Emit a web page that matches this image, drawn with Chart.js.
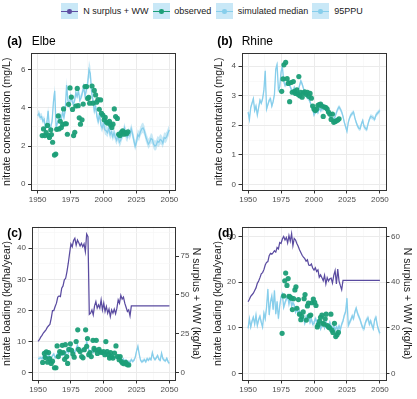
<!DOCTYPE html>
<html><head><meta charset="utf-8">
<script src="https://cdn.jsdelivr.net/npm/chart.js@4.4.1/dist/chart.umd.min.js"></script>
<style>
html,body{margin:0;padding:0;background:#fff;}
body{width:417px;height:399px;position:relative;overflow:hidden;font-family:"Liberation Sans",Arial,sans-serif;}
canvas{position:absolute;}
.lbl{position:absolute;white-space:nowrap;color:#1a1a1a;line-height:1;}
.key{position:absolute;width:16.5px;height:15.7px;background:#c9e8f7;top:3.3px;}
.key .ln{position:absolute;left:0;right:0;top:7.4px;height:1.2px;}
.key .dt{position:absolute;left:6px;top:5.8px;width:4.5px;height:4.5px;border-radius:50%;}
</style></head><body>

<div class="key" style="left:61px"><div class="ln" style="background:#5e4fa2"></div><div class="dt" style="background:#5e4fa2"></div></div>
<div class="lbl" style="left:83.3px;top:6.5px;font-size:9px">N surplus + WW</div>
<div class="key" style="left:153.3px"><div class="ln" style="background:#1b9e77"></div><div class="dt" style="background:#1b9e77"></div></div>
<div class="lbl" style="left:174.3px;top:6.5px;font-size:9px">observed</div>
<div class="key" style="left:216.3px"><div class="ln" style="background:#87ceeb"></div><div class="dt" style="background:#87ceeb"></div></div>
<div class="lbl" style="left:237.7px;top:6.5px;font-size:9px">simulated median</div>
<div class="key" style="left:312.3px"><div class="ln" style="background:#87ceeb"></div><div class="dt" style="background:#87ceeb"></div></div>
<div class="lbl" style="left:334.3px;top:6.5px;font-size:9px">95PPU</div>

<script>
// ---------- data ----------
const simYears = Array.from({length: 101}, (_, i) => 1950 + i);
const xMajor = [1950, 1975, 2000, 2025, 2050];
const xMinor = [1962.5, 1987.5, 2012.5, 2037.5];

// (a) Elbe nitrate concentration (mg/L)
const elbeConcMedian = [
3.6,3.7,3.5,3.55,3.3,3.4,2.9,3.2,3.85,2.9,
3.0,3.3,4.3,4.9,3.0,3.2,3.4,3.6,3.4,3.8,
3.5,3.9,5.2,4.4,4.1,4.6,4.4,4.2,4.35,4.8,
4.6,4.9,4.4,4.55,4.8,5.1,4.6,4.95,5.3,6.0,
5.8,4.8,4.4,3.85,4.1,3.55,3.3,3.7,3.1,2.95,
3.2,2.85,2.8,2.7,2.95,2.6,2.75,2.5,2.7,2.45,
2.3,2.6,2.2,2.3,2.55,2.7,2.95,2.55,2.45,2.7,
2.55,2.9,2.65,2.3,2.0,2.2,2.6,2.5,2.75,2.9,
2.95,2.8,2.5,2.3,2.1,2.2,2.4,2.35,2.1,2.0,
2.05,2.25,2.2,2.35,2.3,2.15,2.45,2.4,2.5,2.7,
2.85];
const elbeConcLow = [
3.45,3.55,3.35,3.4,3.15,3.25,2.75,3.05,3.65,2.75,
2.85,3.15,4.1,4.6,2.85,3.05,3.25,3.45,3.25,3.6,
3.35,3.75,4.9,4.2,3.95,4.4,4.25,4.05,4.2,4.6,
4.45,4.7,4.25,4.4,4.6,4.9,4.45,4.75,5.05,5.6,
5.45,4.55,4.15,3.6,3.85,3.3,3.05,3.45,2.85,2.7,
2.95,2.6,2.55,2.45,2.7,2.35,2.5,2.25,2.45,2.2,
2.05,2.35,1.95,2.05,2.3,2.45,2.7,2.3,2.2,2.45,
2.3,2.65,2.4,2.05,1.75,1.95,2.35,2.25,2.5,2.65,
2.7,2.55,2.25,2.05,1.85,1.95,2.15,2.1,1.85,1.75,
1.8,2.0,1.95,2.1,2.05,1.9,2.2,2.15,2.25,2.45,
2.6];
const elbeConcHigh = [
3.8,3.9,3.7,3.75,3.5,3.6,3.1,3.4,4.1,3.1,
3.2,3.5,4.55,5.2,3.2,3.4,3.6,3.8,3.6,4.0,
3.7,4.15,5.6,4.6,4.3,4.85,4.6,4.4,4.55,5.05,
4.8,5.15,4.6,4.75,5.05,5.35,4.8,5.2,5.6,6.5,
6.2,5.1,4.7,4.12,4.38,3.83,3.58,3.98,3.38,3.23,
3.48,3.13,3.08,2.98,3.23,2.88,3.03,2.78,2.98,2.73,
2.58,2.88,2.48,2.58,2.83,2.98,3.23,2.83,2.73,2.98,
2.83,3.18,2.93,2.58,2.28,2.48,2.88,2.78,3.03,3.18,
3.23,3.08,2.78,2.58,2.38,2.48,2.68,2.63,2.38,2.28,
2.33,2.53,2.48,2.63,2.58,2.43,2.73,2.68,2.78,2.98,
3.13];
const elbeConcObsYears = [1953.5,1954.5,1955.5,1956.5,1957.5,1958.3,1959,1960,1960.5,1961.4,1962.8,1963.8,1964.5,1965.7,1966.2,1967.2,1968,1969,1969.7,1970.8,1971.8,1972.6,1973.5,1974.6,1975.6,1976.5,1977.3,1978.2,1979,1980.1,1980.8,1981.6,1982.5,1983.7,1984.6,1986,1987.2,1988,1988.8,1989.5,1991.3,1992,1993,1994,1994.8,1995.8,1996.8,1997.8,1998.5,1999.5,2000.5,2001.3,2002.3,2003.3,2004.5,2005.5,2006.3,2007.2,2008.2,2009.2,2010.5,2011.5,2012.5,2013.5,2014.5,2015.5,2016.5,2017.5,2018.5];
const elbeConcObs = [2.55,2.9,2.55,2.7,3.08,2.55,2.45,2.85,2.6,2.2,1.53,1.58,2.88,3.58,2.9,3.3,2.97,3.13,3.95,3.17,3.17,2.62,4.19,5.05,4.57,3.92,2.55,2.72,4.1,5.02,4.12,3.48,3.15,3.38,4.2,5.12,5.12,4.5,4.55,4.25,5.15,4.25,4.92,4.68,4.3,4.43,3.93,4.42,3.72,3.62,3.38,3.5,3.25,3.2,3.3,3.1,2.98,3.15,3.95,3.55,3.45,2.62,2.55,2.72,2.8,2.62,2.7,2.65,2.75];

// (b) Rhine nitrate concentration (mg/L)
const rhineConcMedian = [
2.45,2.2,2.6,2.75,2.9,2.5,2.65,2.35,2.6,2.85,
2.75,2.9,3.2,3.85,2.55,2.7,2.85,2.9,2.65,2.8,
3.05,3.9,4.05,3.2,3.3,3.8,4.0,3.5,3.35,3.4,
3.45,3.5,3.3,3.2,3.1,3.28,3.15,3.1,3.17,3.34,
3.5,3.4,3.25,3.1,3.0,2.95,2.9,2.8,2.66,2.55,
2.35,2.45,2.5,2.43,2.6,2.5,2.55,2.55,2.66,2.55,
2.45,2.4,2.32,2.26,2.18,2.2,2.3,2.43,2.55,2.62,
2.55,2.45,2.3,2.1,1.95,1.8,2.1,2.25,2.35,2.4,
2.45,2.25,2.1,1.98,1.9,1.88,2.05,2.16,1.95,1.9,
1.86,2.05,2.2,2.3,2.28,2.25,2.2,2.35,2.4,2.45,
2.5];
const rhineConcLow = [
2.37,2.12,2.52,2.67,2.82,2.42,2.57,2.27,2.52,2.77,
2.67,2.82,3.12,3.72,2.47,2.62,2.77,2.82,2.57,2.72,
2.97,3.78,3.93,3.12,3.22,3.7,3.9,3.42,3.27,3.32,
3.37,3.42,3.22,3.12,3.02,3.2,3.07,3.02,3.09,3.26,
3.42,3.32,3.17,3.02,2.92,2.87,2.82,2.72,2.58,2.47,
2.27,2.37,2.42,2.35,2.52,2.42,2.47,2.47,2.58,2.47,
2.37,2.32,2.24,2.18,2.1,2.12,2.22,2.35,2.47,2.54,
2.47,2.37,2.22,2.02,1.87,1.72,2.02,2.17,2.27,2.32,
2.37,2.17,2.02,1.9,1.82,1.8,1.97,2.08,1.87,1.82,
1.78,1.97,2.12,2.22,2.2,2.17,2.12,2.27,2.32,2.37,
2.42];
const rhineConcHigh = [
2.53,2.28,2.68,2.83,2.98,2.58,2.73,2.43,2.68,2.93,
2.83,2.98,3.28,3.98,2.63,2.78,2.93,2.98,2.73,2.88,
3.13,4.02,4.17,3.28,3.38,3.9,4.1,3.58,3.43,3.48,
3.53,3.58,3.38,3.28,3.18,3.36,3.23,3.18,3.25,3.42,
3.58,3.48,3.33,3.18,3.08,3.03,2.98,2.88,2.74,2.63,
2.43,2.53,2.58,2.51,2.68,2.58,2.63,2.63,2.74,2.63,
2.53,2.48,2.4,2.34,2.26,2.28,2.38,2.51,2.63,2.7,
2.63,2.53,2.38,2.18,2.03,1.88,2.18,2.33,2.43,2.48,
2.53,2.33,2.18,2.06,1.98,1.96,2.13,2.24,2.03,1.98,
1.94,2.13,2.28,2.38,2.36,2.33,2.28,2.43,2.48,2.53,
2.58];
const rhineConcObsYears = [1975.5,1976.5,1977.2,1978.5,1979.6,1980.5,1981.5,1982.5,1983.5,1984.3,1985.2,1986,1987,1987.8,1988.5,1989.2,1990,1991,1992,1993,1994,1995,1996,1997,1998,1999,2000,2001,2002,2003,2004,2005,2006,2007,2008,2009,2010,2011,2012,2013,2014,2015,2016,2017,2018,2019];
const rhineConcObs = [3.15,3.57,4.05,4.13,3.58,3.42,2.8,3.45,3.12,3.48,3.15,3.08,3.2,3.05,3.65,3.0,3.12,2.95,3.1,3.13,3.05,3.12,2.98,3.08,2.92,2.65,2.55,2.5,2.55,2.68,2.7,2.72,2.65,2.3,2.62,2.6,2.55,2.45,2.38,2.2,2.38,2.1,2.13,2.15,2.18,2.22];

// (c) Elbe nitrate loading (kg/ha/year) and N surplus + WW (kg/ha)
const elbeLoadMedian = [
4.5,4.6,4.8,4.5,5.2,4.9,5.4,4.6,5.8,5.0,
4.7,5.5,6.0,4.8,5.2,6.5,5.5,5.8,6.2,5.6,
6.8,6.0,7.5,6.4,7.2,8.5,6.8,7.0,6.5,7.8,
8.8,7.2,6.8,7.5,7.0,8.0,7.2,10.2,8.0,7.0,
6.4,7.2,6.5,8.0,7.0,7.5,6.2,6.8,6.0,6.5,
6.8,5.8,7.0,5.5,5.2,6.0,5.0,5.5,4.5,5.0,
4.8,5.5,4.2,4.5,3.8,4.4,3.5,4.0,3.2,3.6,
3.4,4.2,3.6,4.0,5.0,7.0,8.5,6.0,4.0,3.5,
3.8,4.2,3.5,4.5,4.0,4.6,4.2,6.5,4.8,4.2,
4.8,5.5,4.3,4.0,6.3,4.5,4.0,3.8,4.6,3.5,
3.0];
const elbeLoadLow = [
4.0,4.1,4.3,4.0,4.7,4.4,4.9,4.1,5.3,4.5,
4.2,5.0,5.5,4.3,4.7,6.0,5.0,5.3,5.7,5.1,
6.3,5.5,7.0,5.9,6.7,8.0,6.3,6.5,6.0,7.3,
8.3,6.7,6.3,7.0,6.5,7.5,6.7,9.7,7.5,6.5,
5.9,6.7,6.0,7.5,6.5,7.0,5.7,6.3,5.5,6.0,
6.3,5.3,6.5,5.0,4.7,5.5,4.5,5.0,4.0,4.5,
4.3,5.0,3.7,4.0,3.3,3.9,3.0,3.5,2.7,3.1,
2.9,3.7,3.1,3.5,4.5,6.5,8.0,5.5,3.5,3.0,
3.3,3.7,3.0,4.0,3.5,4.1,3.7,6.0,4.3,3.7,
4.3,5.0,3.8,3.5,5.8,4.0,3.5,3.3,4.1,3.0,
2.5];
const elbeLoadHigh = [
5.1,5.2,5.4,5.1,5.8,5.5,6.0,5.2,6.4,5.6,
5.3,6.1,6.6,5.4,5.8,7.1,6.1,6.4,6.8,6.2,
7.4,6.6,8.1,7.0,7.8,9.1,7.4,7.6,7.1,8.4,
9.4,7.8,7.4,8.1,7.6,8.6,7.8,10.8,8.6,7.6,
7.0,7.8,7.1,8.6,7.6,8.1,6.8,7.4,6.6,7.1,
7.4,6.4,7.6,6.1,5.8,6.6,5.6,6.1,5.1,5.6,
5.4,6.1,4.8,5.1,4.4,5.0,4.1,4.6,3.8,4.2,
4.0,4.8,4.2,4.6,5.6,7.6,9.1,6.6,4.6,4.1,
4.4,4.8,4.1,5.1,4.6,5.2,4.8,7.1,5.4,4.8,
5.4,6.1,4.9,4.6,6.9,5.1,4.6,4.4,5.2,4.1,
3.6];
const elbeNsurplus = [
20.1,21.2,22.9,24.0,25.5,26.5,27.6,29.1,30.2,31.0,
35.0,40.0,40.0,42.6,44.7,48.6,49.4,49.0,54.3,55.8,
59.7,60.7,65.0,70.4,76.8,82.8,81.0,85.0,86.4,82.0,
85.3,83.6,81.5,83.2,81.0,82.8,77.9,89.2,87.5,37.5,
38.3,40.4,37.2,43.0,45.8,41.5,43.6,41.5,46.8,40.4,
44.7,39.4,42.6,38.3,40.9,36.1,40.4,38.3,40.9,37.9,
41.5,46.8,44.7,49.8,47.3,48.6,44.7,42.1,39.4,40.4,
36.6,43.0,43.0,43.0,43.0,43.0,43.0,43.0,43.0,43.0,
43.0,43.0,43.0,43.0,43.0,43.0,43.0,43.0,43.0,43.0,
43.0,43.0,43.0,43.0,43.0,43.0,43.0,43.0,43.0,43.0,
43.0];
const elbeLoadObsYears = [1953.5,1954.8,1955.5,1956.3,1957.2,1958,1958.8,1960,1961,1962.5,1963.6,1964.5,1965.4,1966.5,1967.5,1968.4,1969.2,1970.2,1970.8,1971.8,1972.5,1973.5,1974.6,1975.5,1976.5,1977.5,1979,1980.2,1980.8,1982,1983.2,1984.2,1985.2,1986.2,1987,1987.6,1988.6,1989.5,1990.5,1991.8,1992.6,1993.3,1994.3,1995.2,1996.4,1997.2,1998.5,1999.8,2000.8,2001.6,2002.6,2003.6,2004.4,2005.2,2005.8,2007,2008.2,2009.3,2010.5,2011.7,2012.5,2013.5,2014.3,2015.5,2016.8,2018,2019];
const elbeLoadObs = [3.3,6.2,4.9,6.7,3.4,6.5,4.5,3.0,3.7,1.6,1.6,8.6,5.2,6.8,6.3,8.8,6.5,4.3,9.0,5.2,3.0,7.5,9.3,7.2,6.0,5.0,10.0,13.8,7.5,6.8,5.2,4.8,7.4,13.8,8.5,11.0,5.8,6.5,5.2,10.4,7.8,7.3,10.4,6.2,7.5,6.8,6.5,6.8,5.8,10.0,6.8,5.8,4.7,6.5,5.2,4.7,6.3,8.6,5.2,4.2,5.2,3.6,3.1,2.9,3.3,2.6,2.5];

// (d) Rhine nitrate loading (kg/ha/year) and N surplus + WW (kg/ha)
const rhineLoadMedian = [
9.9,12.0,10.2,11.5,12.3,10.8,12.8,10.5,11.8,12.5,
11.2,10.2,13.2,12.0,14.5,18.5,12.8,15.7,17.0,14.0,
18.2,13.0,15.8,12.0,14.8,16.8,17.4,14.5,15.5,16.3,
17.0,15.2,16.8,14.8,15.5,15.0,13.5,14.2,13.0,13.8,
12.5,11.7,12.2,11.0,12.5,11.8,12.8,11.2,12.0,10.8,
11.0,12.0,11.5,10.5,11.2,9.8,10.5,11.0,10.0,11.3,
10.6,10.0,11.2,10.3,9.8,10.5,9.5,10.2,9.7,10.4,
9.6,10.8,11.5,12.8,13.5,16.5,10.5,11.2,11.8,12.6,
12.0,13.5,14.3,13.2,12.5,11.8,10.8,10.0,9.8,11.2,
11.8,12.2,10.8,11.5,10.5,9.8,11.8,12.3,10.6,9.5,
8.8];
const rhineLoadLow = [
9.3,11.4,9.6,10.9,11.7,10.2,12.2,9.9,11.2,11.9,
10.6,9.6,12.6,11.4,13.9,17.9,12.2,15.1,16.4,13.4,
17.6,12.4,15.2,11.4,14.2,16.2,16.8,13.9,14.9,15.7,
16.4,14.6,16.2,14.2,14.9,14.4,12.9,13.6,12.4,13.2,
11.9,11.1,11.6,10.4,11.9,11.2,12.2,10.6,11.4,10.2,
10.4,11.4,10.9,9.9,10.6,9.2,9.9,10.4,9.4,10.7,
10.0,9.4,10.6,9.7,9.2,9.9,8.9,9.6,9.1,9.8,
9.0,10.2,10.9,12.2,12.9,15.9,9.9,10.6,11.2,12.0,
11.4,12.9,13.7,12.6,11.9,11.2,10.2,9.4,9.2,10.6,
11.2,11.6,10.2,10.9,9.9,9.2,11.2,11.7,10.0,8.9,
8.2];
const rhineLoadHigh = [
10.5,12.6,10.8,12.1,12.9,11.4,13.4,11.1,12.4,13.1,
11.8,10.8,13.8,12.6,15.1,19.1,13.4,16.3,17.6,14.6,
18.8,13.6,16.4,12.6,15.4,17.4,18.0,15.1,16.1,16.9,
17.6,15.8,17.4,15.4,16.1,15.6,14.1,14.8,13.6,14.4,
13.1,12.3,12.8,11.6,13.1,12.4,13.4,11.8,12.6,11.4,
11.6,12.6,12.1,11.1,11.8,10.4,11.1,11.6,10.6,11.9,
11.2,10.6,11.8,10.9,10.4,11.1,10.1,10.8,10.3,11.0,
10.2,11.4,12.1,13.4,14.1,17.1,11.1,11.8,12.4,13.2,
12.6,14.1,14.9,13.8,13.1,12.4,11.4,10.6,10.4,11.8,
12.4,12.8,11.4,12.1,11.1,10.4,12.4,12.9,11.2,10.1,
9.4];
const rhineNsurplus = [
31.4,32.5,33.8,34.5,35.2,36.4,37.5,39.5,40.5,42.0,
43.7,44.2,45.5,47.5,48.7,49.0,51.6,52.6,52.3,53.0,
53.8,53.2,55.2,54.6,57.4,57.0,58.9,60.0,58.5,59.6,
57.2,60.4,58.0,61.3,56.0,59.2,58.5,57.0,55.7,54.2,
53.0,51.8,51.0,50.3,49.2,49.8,47.5,47.3,48.0,46.2,
45.3,46.3,44.7,45.4,42.2,43.2,42.0,40.6,43.0,39.2,
42.0,40.5,41.5,41.8,39.6,43.0,45.1,39.2,45.8,40.5,
38.5,36.7,40.8,40.8,40.8,40.8,40.8,40.8,40.8,40.8,
40.8,40.8,40.8,40.8,40.8,40.8,40.8,40.8,40.8,40.8,
40.8,40.8,40.8,40.8,40.8,40.8,40.8,40.8,40.8,40.8,
40.8];
const rhineLoadObsYears = [1975.8,1977,1977.8,1978.5,1979.5,1980.4,1981,1981.8,1982.8,1983.6,1984.5,1985.5,1986.3,1987,1988.2,1989,1990,1990.8,1991.8,1992.5,1993.2,1994.2,1995,1995.8,1996.5,1997.5,1998.5,1999.5,2000.5,2001.5,2002.5,2003.2,2004.2,2005,2006,2006.8,2007.6,2008.5,2009.2,2010.2,2011,2011.8,2012.8,2013.6,2014.4,2015.5,2016.5,2017.5,2018.5];
const rhineLoadObs = [8.8,17.0,20.3,22.0,19.3,20.8,16.9,16.8,16.5,14.0,16.4,18.3,19.0,14.3,16.2,13.0,11.8,12.5,13.5,16.4,17.3,11.7,14.8,15.4,12.6,12.8,15.5,16.3,15.6,14.9,10.2,10.7,11.5,12.3,12.8,11.0,10.8,12.0,13.0,10.5,10.2,10.0,13.0,9.5,9.0,11.0,8.1,8.5,9.0];

// tick labels
const concTicksElbe = [0, 2, 4, 6];
const concMinorElbe = [1, 3, 5];
const concTicksRhine = [0, 1, 2, 3, 4];
const concMinorRhine = [0.5, 1.5, 2.5, 3.5];
const loadTicksElbe = [0, 10, 20, 30, 40];
const loadMinorElbe = [5, 15, 25, 35, 45];
const nTicksElbe = [0, 25, 50, 75];
const loadTicksRhine = [0, 10, 20, 30];
const loadMinorRhine = [5, 15, 25];
const nTicksRhine = [0, 20, 40, 60];

// ---------- drawing ----------
const SKY = '#87ceeb';
const RIBBON = 'rgba(135,206,235,0.45)';
const GREEN = 'rgba(27,158,119,0.95)';
const PURPLE = '#5a4ba0';
Chart.defaults.font.family = '"Liberation Sans", Arial, sans-serif';
Chart.defaults.color = '#4d4d4d';

function pts(xs, ys) { return xs.map((x, i) => ({x: x, y: ys[i]})); }

const borderPlugin = {
  id: 'panelBorder',
  afterDraw(chart) {
    const a = chart.chartArea, c = chart.ctx;
    c.save();
    c.strokeStyle = '#333333';
    c.lineWidth = 1;
    const l = Math.round(a.left) + 0.5, t = Math.round(a.top) + 0.5;
    const r = Math.round(a.right) - 0.5, b = Math.round(a.bottom) - 0.5;
    c.strokeRect(l, t, r - l, b - t);
    c.restore();
  }
};

function gridOpts(majors) {
  const isMaj = ctx => ctx.tick && majors.includes(ctx.tick.value);
  return {
    color: ctx => isMaj(ctx) ? '#ebebeb' : '#f5f5f5',
    lineWidth: ctx => isMaj(ctx) ? 1 : 0.6,
    tickColor: ctx => isMaj(ctx) ? '#333333' : 'rgba(0,0,0,0)',
    tickWidth: 1,
    tickLength: 3,
    drawTicks: true
  };
}

function makePanel(p) {
  const cv = document.createElement('canvas');
  cv.width = p.w; cv.height = p.h;
  cv.style.left = p.x + 'px'; cv.style.top = p.y + 'px';
  cv.style.width = p.w + 'px'; cv.style.height = p.h + 'px';
  document.body.appendChild(cv);

  const datasets = [
    {data: pts(simYears, p.low), borderColor: 'rgba(0,0,0,0)', borderWidth: 1, pointRadius: 0, fill: false, order: 5, yAxisID: 'y'},
    {data: pts(simYears, p.high), borderColor: 'rgba(0,0,0,0)', borderWidth: 1, pointRadius: 0, fill: '-1', backgroundColor: RIBBON, order: 4, yAxisID: 'y'},
    {data: pts(simYears, p.median), borderColor: SKY, borderWidth: 1.3, pointRadius: 0, fill: false, order: 3, yAxisID: 'y'}
  ];
  if (p.nsurplus) {
    datasets.push({data: pts(simYears, p.nsurplus), borderColor: PURPLE, borderWidth: 1.25, pointRadius: 0, fill: false, order: 2, yAxisID: 'y2'});
  }
  datasets.push({data: pts(p.obsX, p.obsY), showLine: false, pointRadius: 2.6, pointBorderWidth: 0,
    pointBackgroundColor: GREEN, backgroundColor: GREEN, borderColor: GREEN, order: 1, yAxisID: 'y'});

  const yAll = p.yMajor.concat(p.yMinor).sort((a, b) => a - b);
  const xAll = xMajor.concat(xMinor).sort((a, b) => a - b);
  const scales = {
    x: {
      type: 'linear', min: 1945, max: 2055, bounds: 'data',
      afterBuildTicks: s => { s.ticks = xAll.map(v => ({value: v})); },
      afterFit: s => { s.height = p.xH; },
      ticks: {autoSkip: false, maxRotation: 0, minRotation: 0, padding: 1.5, font: {size: 8}, color: '#4d4d4d',
        callback: v => xMajor.includes(v) ? String(v) : ''},
      grid: gridOpts(xMajor),
      border: {display: false}
    },
    y: {
      type: 'linear', position: 'left', min: p.yMin, max: p.yMax, bounds: 'data',
      afterBuildTicks: s => { s.ticks = yAll.map(v => ({value: v})); },
      afterFit: s => { s.width = p.yW; },
      ticks: {autoSkip: false, padding: 2.5, font: {size: 8}, color: '#4d4d4d',
        callback: v => p.yMajor.includes(v) ? String(v) : ''},
      grid: gridOpts(p.yMajor),
      border: {display: false},
      title: {display: true, text: p.yTitle, font: {size: 10.5}, color: '#1a1a1a', padding: {top: p.yTP, bottom: 0}}
    }
  };
  if (p.nsurplus) {
    scales.y2 = {
      type: 'linear', position: 'right', min: p.y2Min, max: p.y2Max, bounds: 'data',
      afterBuildTicks: s => { s.ticks = p.y2Major.map(v => ({value: v})); },
      afterFit: s => { s.width = p.y2W; },
      ticks: {autoSkip: false, padding: 1.5, font: {size: 8}, color: '#4d4d4d', callback: v => String(v)},
      grid: {drawOnChartArea: false, tickLength: 3, tickColor: '#333333', tickWidth: 1, drawTicks: true},
      border: {display: false},
      title: {display: true, text: p.y2Title, font: {size: 10.5}, color: '#1a1a1a', padding: {top: p.y2TP, bottom: 0}}
    };
  }

  new Chart(cv, {
    type: 'line',
    data: {datasets},
    options: {
      responsive: false, animation: false, devicePixelRatio: 1, events: [],
      layout: {padding: p.pad},
      plugins: {legend: {display: false}, tooltip: {enabled: false}},
      scales
    },
    plugins: [borderPlugin]
  });
}

makePanel({x: 0, y: 45, w: 210, h: 170, pad: {left: 0, top: 8, right: 34, bottom: 0},
  yW: 31, xH: 24.5, yTP: 1.2, yMin: -0.33, yMax: 6.88, yMajor: concTicksElbe, yMinor: concMinorElbe,
  yTitle: 'nitrate concentration (mg/L)',
  median: elbeConcMedian, low: elbeConcLow, high: elbeConcHigh, obsX: elbeConcObsYears, obsY: elbeConcObs});

makePanel({x: 205, y: 45, w: 212, h: 170, pad: {left: 0, top: 8, right: 30.5, bottom: 0},
  yW: 36.5, xH: 24.5, yTP: 7.7, yMin: -0.21, yMax: 4.45, yMajor: concTicksRhine, yMinor: concMinorRhine,
  yTitle: 'nitrate concentration (mg/L)',
  median: rhineConcMedian, low: rhineConcLow, high: rhineConcHigh, obsX: rhineConcObsYears, obsY: rhineConcObs});

makePanel({x: 0, y: 215, w: 205, h: 184, pad: {left: 0, top: 11.5, right: 0, bottom: 0},
  yW: 31.5, y2W: 29, xH: 18.5, yTP: 1.2, y2TP: 2.7, yMin: -2.5, yMax: 47.0, yMajor: loadTicksElbe, yMinor: loadMinorElbe,
  y2Min: -5, y2Max: 94, y2Major: nTicksElbe,
  yTitle: 'nitrate loading (kg/ha/year)', y2Title: 'N surplus + WW (kg/ha)',
  median: elbeLoadMedian, low: elbeLoadLow, high: elbeLoadHigh, nsurplus: elbeNsurplus, obsX: elbeLoadObsYears, obsY: elbeLoadObs});

makePanel({x: 205, y: 215, w: 212, h: 184, pad: {left: 0, top: 11.5, right: 0, bottom: 0},
  yW: 36.5, y2W: 30.5, xH: 18.5, yTP: 7.0, y2TP: 4.0, yMin: -1.53, yMax: 32.2, yMajor: loadTicksRhine, yMinor: loadMinorRhine,
  y2Min: -3.06, y2Max: 64.4, y2Major: nTicksRhine,
  yTitle: 'nitrate loading (kg/ha/year)', y2Title: 'N surplus + WW (kg/ha)',
  median: rhineLoadMedian, low: rhineLoadLow, high: rhineLoadHigh, nsurplus: rhineNsurplus, obsX: rhineLoadObsYears, obsY: rhineLoadObs});

// panel titles (added last so they sit above the canvases)
function addLabel(txt, left, top, bold) {
  const d = document.createElement('div');
  d.className = 'lbl';
  d.textContent = txt;
  d.style.left = left + 'px'; d.style.top = top + 'px';
  d.style.fontSize = '12px';
  d.style.fontWeight = bold ? 'bold' : 'normal';
  d.style.color = '#000';
  document.body.appendChild(d);
}
addLabel('(a)', 7.3, 35.2, true);
addLabel('Elbe', 31.7, 35.2, false);
addLabel('(b)', 217.3, 35.2, true);
addLabel('Rhine', 241.7, 35.2, false);
addLabel('(c)', 7.3, 227.2, true);
addLabel('(d)', 218, 227.2, true);
</script>
</body></html>
